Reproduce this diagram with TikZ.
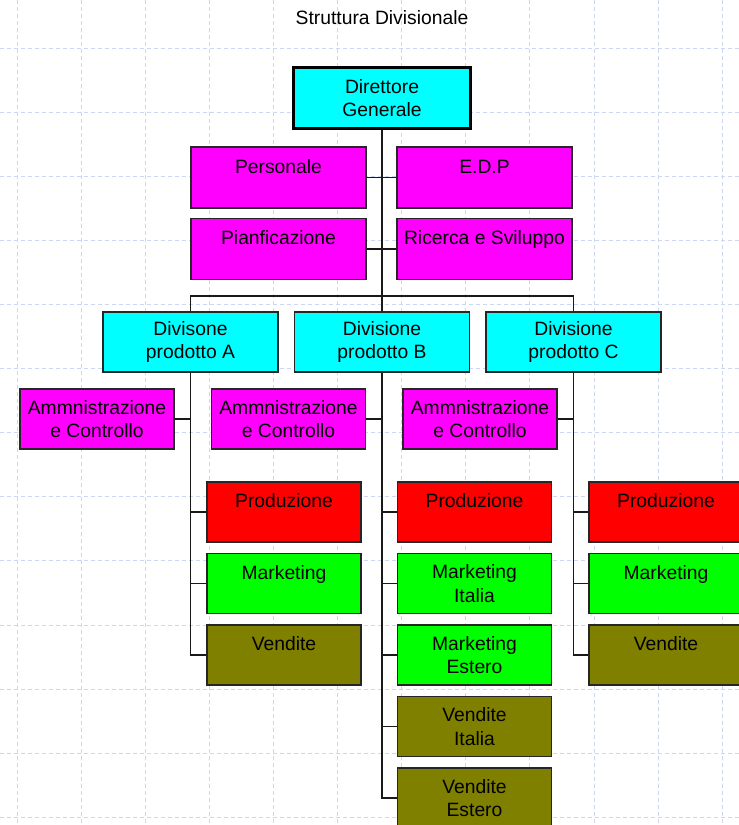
\documentclass[tikz,border=0pt]{standalone}
\usepackage{fontspec}
\setmainfont{Liberation Sans}
\usetikzlibrary{positioning}
\definecolor{dirCyan}{RGB}{0,255,255}
\definecolor{staffPink}{RGB}{255,0,255}
\definecolor{prodRed}{RGB}{255,0,0}
\definecolor{mktGreen}{RGB}{0,255,0}
\definecolor{vendOlive}{RGB}{128,128,0}
\definecolor{gridBlue}{RGB}{205,215,245}
\tikzstyle{orgNode} = [rectangle, draw=black!85, line width=1.2pt, align=center, inner sep=0pt, text=black, font=\fontsize{19.3}{23.5}\selectfont]
\tikzstyle{headNode} = [orgNode, fill=dirCyan, draw=black, line width=3.5pt, minimum width=177pt, minimum height=61pt]
\tikzstyle{staffNode} = [orgNode, fill=staffPink, minimum width=175pt, minimum height=61pt]
\tikzstyle{divNode} = [orgNode, fill=dirCyan, minimum width=175pt, minimum height=60pt]
\tikzstyle{ammNode} = [orgNode, fill=staffPink, minimum width=154pt, minimum height=60pt]
\tikzstyle{prodNode} = [orgNode, fill=prodRed, minimum width=154pt, minimum height=60pt]
\tikzstyle{mktNode} = [orgNode, fill=mktGreen, minimum width=154pt, minimum height=60pt]
\tikzstyle{vendNode} = [orgNode, fill=vendOlive, minimum width=154pt, minimum height=60pt]
\tikzstyle{eNode} = [font=\fontsize{19.3}{23.5}\selectfont]
\tikzstyle{gridLine} = [gridBlue, line width=0.8pt, dash pattern=on 4pt off 3pt]
\tikzstyle{link} = [line width=1.4pt, draw=black!90]
% single line of text kept in the upper half of a box
\newcommand{\topline}[1]{\strut #1\\\rule[-1pt]{0pt}{1pt}}
\begin{document}
\begin{tikzpicture}[x=1pt, y=-1pt, node distance=71.5pt]
    \useasboundingbox (0,0) rectangle (739,825);
    % background grid
    \foreach \gx in {0,...,11} \draw [gridLine] ({17+64.1*\gx},0) -- ({17+64.1*\gx},825);
    \foreach \gy in {0,...,12} \draw [gridLine] (0,{48+64.1*\gy}) -- (739,{48+64.1*\gy});

    \node (title) [eNode] at (382,18) {Struttura Divisionale};
    \node (dg) [headNode] at (382,98) {Direttore\\Generale};
    \node (pers) [staffNode] at (278.5,177.5) {\topline{Personale}};
    \node (edp) [staffNode, right of=pers, xshift=134.5pt] {\topline{E.D.P}};
    \node (pian) [staffNode, below of=pers] {\topline{Pianficazione}};
    \node (ric) [staffNode, below of=edp] {\topline{Ricerca e Sviluppo}};

    \node (divb) [divNode] at (382,342) {Divisione\\prodotto B};
    \node (diva) [divNode, left of=divb, xshift=-120pt] {Divisone\\prodotto A};
    \node (divc) [divNode, right of=divb, xshift=120pt] {Divisione\\prodotto C};

    % division A
    \node (amma) [ammNode, below of=diva, xshift=-93.5pt, yshift=-5.5pt] {Ammnistrazione\\e Controllo};
    \node (proda) [prodNode, below of=amma, xshift=187pt, yshift=-21.5pt] {\topline{Produzione}};
    \node (mkta) [mktNode, below of=proda] {\topline{Marketing}};
    \node (vena) [vendNode, below of=mkta] {\topline{Vendite}};
    % division B
    \node (ammb) [ammNode, below of=divb, xshift=-93.5pt, yshift=-5.5pt] {Ammnistrazione\\e Controllo};
    \node (prodb) [prodNode, below of=ammb, xshift=186pt, yshift=-21.5pt] {\topline{Produzione}};
    \node (mitb) [mktNode, below of=prodb] {Marketing\\Italia};
    \node (mesb) [mktNode, below of=mitb] {Marketing\\Estero};
    \node (vitb) [vendNode, below of=mesb] {Vendite\\Italia};
    \node (vesb) [vendNode, below of=vitb] {Vendite\\Estero};
    % division C
    \node (ammc) [ammNode, below of=divc, xshift=-93.5pt, yshift=-5.5pt] {Ammnistrazione\\e Controllo};
    \node (prodc) [prodNode, below of=ammc, xshift=186pt, yshift=-21.5pt] {\topline{Produzione}};
    \node (mktc) [mktNode, below of=prodc] {\topline{Marketing}};
    \node (venc) [vendNode, below of=mktc] {\topline{Vendite}};

    \coordinate (bus) at (382,296);
    \draw [link] (dg) -- (divb);
    \draw [link] (pers) -- (edp);
    \draw [link] (pian) -- (ric);
    \draw [link] (diva) |- (bus) -| (divc);

    \draw [link] (diva) |- (vena);
    \draw [link] (amma) -- (amma -| diva);
    \draw [link] (proda) -- (proda -| diva);
    \draw [link] (mkta) -- (mkta -| diva);

    \draw [link] (divb) |- (vesb);
    \draw [link] (ammb) -- (ammb -| divb);
    \draw [link] (prodb) -- (prodb -| divb);
    \draw [link] (mitb) -- (mitb -| divb);
    \draw [link] (mesb) -- (mesb -| divb);
    \draw [link] (vitb) -- (vitb -| divb);

    \draw [link] (divc) |- (venc);
    \draw [link] (ammc) -- (ammc -| divc);
    \draw [link] (prodc) -- (prodc -| divc);
    \draw [link] (mktc) -- (mktc -| divc);
\end{tikzpicture}
\end{document}
